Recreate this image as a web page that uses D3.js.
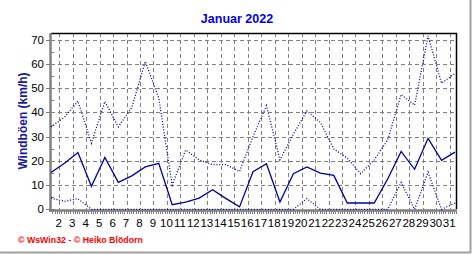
<!DOCTYPE html>
<html>
<head>
<meta charset="utf-8">
<script src="https://cdn.jsdelivr.net/npm/d3@7"></script>
<style>
  html, body { margin: 0; padding: 0; background: #fff; }
  svg { display: block; }
  text { font-family: Arial, "Liberation Sans", sans-serif; }
</style>
</head>
<body>
<svg id="chart"></svg>
<script>
const days = [1, 2, 3, 4, 5, 6, 7, 8, 9, 10, 11, 12, 13, 14, 15, 16, 17, 18, 19, 20, 21, 22, 23, 24, 25, 26, 27, 28, 29, 30, 31];
const maxGust = [34, 38, 44.7, 27.3, 44.5, 34, 42, 61, 46, 10, 24.5, 20.4, 18.4, 18.4, 15.6, 30, 42.8, 20.4, 31, 40.6, 35.9, 24.9, 21.1, 14.7, 20.4, 28.6, 47.4, 43, 71.6, 52, 56.1];
const meanGust = [15.2, 19, 23.4, 9.5, 21.4, 11.1, 13.8, 17.5, 19, 1.9, 3, 4.6, 8.1, 4.4, 1, 15.5, 18.8, 3, 14.7, 17.5, 14.9, 14, 2.6, 2.6, 2.6, 12.5, 23.9, 16.5, 29.3, 20.2, 23.6];
const minGust = [4.6, 3.3, 4.4, 0, 0, 0, 0, 0, 0, 0, 0, 0, 0, 0, 0, 0, 0, 0, 0, 4.4, 0, 0, 0, 0, 0, 0, 11.1, 0, 15.3, 0, 2.6];
const yTicks = [0, 10, 20, 30, 40, 50, 60, 70];
const xLabels = [2, 3, 4, 5, 6, 7, 8, 9, 10, 11, 12, 13, 14, 15, 16, 17, 18, 19, 20, 21, 22, 23, 24, 25, 26, 27, 28, 29, 30, 31];

const w = 472;
const h = 255;
const pLeft = 51, pRight = 457, pTop = 33, pBottom = 209.3;

const svg = d3.select("#chart").attr("width", w).attr("height", h);

const xScale = d3.scaleLinear().domain([1, 31]).range([51, 455]);
const yScale = d3.scaleLinear().domain([0, 70]).range([pBottom, 39.7]);

// day boundaries sit a bit left of the day's point
const gridX = (d) => xScale(d - 0.39);

// outer frame (right and bottom only)
svg.append("line").attr("x1", 470.5).attr("x2", 470.5).attr("y1", 0).attr("y2", 253)
  .attr("stroke", "#a0a0a0").attr("stroke-width", 2);
svg.append("line").attr("x1", 0).attr("x2", 471).attr("y1", 252.5).attr("y2", 252.5)
  .attr("stroke", "#a0a0a0").attr("stroke-width", 2);

// grid
const grid = svg.append("g").attr("stroke", "#808080").attr("stroke-dasharray", "4,3").attr("stroke-width", 1);
grid.selectAll(".hg").data(yTicks.filter((t) => t > 0)).enter().append("line")
  .attr("x1", pLeft).attr("x2", pRight)
  .attr("y1", (d) => Math.round(yScale(d)) + 0.5).attr("y2", (d) => Math.round(yScale(d)) + 0.5);
grid.selectAll(".vg").data(xLabels).enter().append("line")
  .attr("x1", (d) => Math.round(gridX(d)) + 0.5).attr("x2", (d) => Math.round(gridX(d)) + 0.5)
  .attr("y1", pTop).attr("y2", pBottom);

// frame top/right
svg.append("path")
  .attr("d", `M${pLeft},${pTop + 0.5}H${pRight - 0.5}V${pBottom}`)
  .attr("fill", "none").attr("stroke", "#000").attr("stroke-width", 1.5);

// y axis
const yAxis = svg.append("g");
yAxis.append("line").attr("x1", 50.5).attr("x2", 50.5).attr("y1", pTop).attr("y2", 212)
  .attr("stroke", "#808080").attr("stroke-width", 2.5);
const minorY = d3.range(5, 75, 10);
yAxis.selectAll(".my").data(minorY).enter().append("line")
  .attr("x1", 51).attr("x2", 54)
  .attr("y1", (d) => Math.round(yScale(d)) + 0.5).attr("y2", (d) => Math.round(yScale(d)) + 0.5)
  .attr("stroke", "#808080");
yAxis.selectAll(".ty").data(yTicks).enter().append("line")
  .attr("x1", 46).attr("x2", 55)
  .attr("y1", (d) => Math.round(yScale(d)) + 0.5).attr("y2", (d) => Math.round(yScale(d)) + 0.5)
  .attr("stroke", "#808080");
yAxis.selectAll(".ly").data(yTicks).enter().append("text")
  .attr("x", 44).attr("y", (d) => yScale(d) + 4)
  .attr("text-anchor", "end").attr("font-size", 11.5).attr("fill", "#000")
  .text((d) => d);

// x axis
const xAxis = svg.append("g");
xAxis.append("line").attr("x1", 49).attr("x2", pRight).attr("y1", 210.5).attr("y2", 210.5)
  .attr("stroke", "#808080").attr("stroke-width", 2.5);
const minorX = d3.range(1 - 0.39 + 1 / 6, 31.5, 1 / 6).filter((d) => xScale(d) > pLeft && xScale(d) < pRight);
xAxis.selectAll(".mx").data(minorX).enter().append("line")
  .attr("x1", (d) => Math.round(xScale(d)) + 0.5).attr("x2", (d) => Math.round(xScale(d)) + 0.5)
  .attr("y1", 211).attr("y2", 214)
  .attr("stroke", "#808080");
xAxis.selectAll(".lx").data(xLabels).enter().append("text")
  .attr("x", (d) => gridX(d) - 0.5).attr("y", 227)
  .attr("text-anchor", "middle").attr("font-size", 11.5).attr("fill", "#000")
  .text((d) => d);

// series
const line = d3.line().x((d, i) => xScale(days[i])).y((d) => yScale(d));

svg.append("path").datum(minGust).attr("d", line)
  .attr("fill", "none").attr("stroke", "#0000a8").attr("stroke-width", 1.3).attr("stroke-dasharray", "1,1.8");
svg.append("path").datum(maxGust).attr("d", line)
  .attr("fill", "none").attr("stroke", "#0000a8").attr("stroke-width", 1.3).attr("stroke-dasharray", "1,1.8");
svg.append("path").datum(meanGust).attr("d", line)
  .attr("fill", "none").attr("stroke", "#0000a0").attr("stroke-width", 1.3);

// titles
svg.append("text").attr("x", 237).attr("y", 23).attr("text-anchor", "middle")
  .attr("font-size", 12.5).attr("font-weight", "bold").attr("fill", "#0000ee")
  .text("Januar 2022");

svg.append("text").attr("transform", `translate(27, 121) rotate(-90)`)
  .attr("text-anchor", "middle").attr("font-size", 12).attr("font-weight", "bold").attr("fill", "#1a1a9c")
  .text("Windböen (km/h)");

svg.append("text").attr("x", 18).attr("y", 243)
  .attr("font-size", 8.8).attr("font-weight", "bold").attr("fill", "#ff0000")
  .text("© WsWin32 - © Heiko Blödorn");
</script>
</body>
</html>
